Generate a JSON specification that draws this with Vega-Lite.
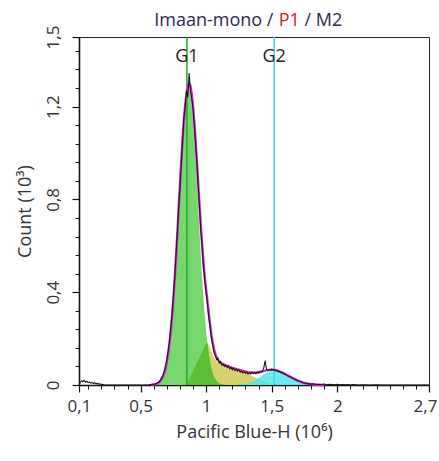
{
  "$schema": "https://vega.github.io/schema/vega-lite/v6.json",
  "width": 350,
  "height": 348,
  "autosize": {"type": "none"},
  "padding": {"left": 79, "top": 37, "right": 10, "bottom": 76},
  "background": "white",
  "config": {
    "view": {"stroke": "#222", "strokeWidth": 1},
    "font": "Open Sans",
    "axis": {"grid": false, "labelFont": "Open Sans", "titleFont": "Open Sans", "labelColor": "#333", "titleColor": "#333", "tickColor": "#111", "domainColor": "#111"}
  },
  "datasets": {
    "curves": [
      {"x": 0.58, "g1": 0.001, "s": 0, "ov": 0, "g2": 0, "fit": 0.001},
      {"x": 0.59, "g1": 0.001, "s": 0, "ov": 0, "g2": 0, "fit": 0.001},
      {"x": 0.60, "g1": 0.002, "s": 0, "ov": 0, "g2": 0, "fit": 0.002},
      {"x": 0.61, "g1": 0.003, "s": 0, "ov": 0, "g2": 0, "fit": 0.003},
      {"x": 0.62, "g1": 0.005, "s": 0, "ov": 0, "g2": 0, "fit": 0.005},
      {"x": 0.63, "g1": 0.007, "s": 0, "ov": 0, "g2": 0, "fit": 0.007},
      {"x": 0.64, "g1": 0.011, "s": 0, "ov": 0, "g2": 0, "fit": 0.011},
      {"x": 0.65, "g1": 0.017, "s": 0, "ov": 0, "g2": 0, "fit": 0.017},
      {"x": 0.66, "g1": 0.025, "s": 0, "ov": 0, "g2": 0, "fit": 0.025},
      {"x": 0.67, "g1": 0.036, "s": 0, "ov": 0, "g2": 0, "fit": 0.036},
      {"x": 0.68, "g1": 0.052, "s": 0, "ov": 0, "g2": 0, "fit": 0.052},
      {"x": 0.69, "g1": 0.072, "s": 0, "ov": 0, "g2": 0, "fit": 0.072},
      {"x": 0.70, "g1": 0.100, "s": 0, "ov": 0, "g2": 0, "fit": 0.100},
      {"x": 0.71, "g1": 0.134, "s": 0, "ov": 0, "g2": 0, "fit": 0.134},
      {"x": 0.72, "g1": 0.178, "s": 0, "ov": 0, "g2": 0, "fit": 0.178},
      {"x": 0.73, "g1": 0.231, "s": 0, "ov": 0, "g2": 0, "fit": 0.231},
      {"x": 0.74, "g1": 0.295, "s": 0, "ov": 0, "g2": 0, "fit": 0.295},
      {"x": 0.75, "g1": 0.370, "s": 0, "ov": 0, "g2": 0, "fit": 0.370},
      {"x": 0.76, "g1": 0.455, "s": 0, "ov": 0, "g2": 0, "fit": 0.455},
      {"x": 0.77, "g1": 0.549, "s": 0, "ov": 0, "g2": 0, "fit": 0.549},
      {"x": 0.78, "g1": 0.650, "s": 0, "ov": 0, "g2": 0, "fit": 0.650},
      {"x": 0.79, "g1": 0.755, "s": 0, "ov": 0, "g2": 0, "fit": 0.755},
      {"x": 0.80, "g1": 0.861, "s": 0, "ov": 0, "g2": 0, "fit": 0.861},
      {"x": 0.81, "g1": 0.964, "s": 0, "ov": 0, "g2": 0, "fit": 0.964},
      {"x": 0.82, "g1": 1.058, "s": 0, "ov": 0, "g2": 0, "fit": 1.058},
      {"x": 0.83, "g1": 1.141, "s": 0, "ov": 0, "g2": 0, "fit": 1.141},
      {"x": 0.84, "g1": 1.207, "s": 0, "ov": 0, "g2": 0, "fit": 1.207},
      {"x": 0.85, "g1": 1.253, "s": 0, "ov": 0, "g2": 0, "fit": 1.253},
      {"x": 0.86, "g1": 1.277, "s": 0.012, "ov": 0.012, "g2": 0, "fit": 1.289},
      {"x": 0.87, "g1": 1.277, "s": 0.024, "ov": 0.024, "g2": 0, "fit": 1.301},
      {"x": 0.88, "g1": 1.253, "s": 0.036, "ov": 0.036, "g2": 0, "fit": 1.289},
      {"x": 0.89, "g1": 1.207, "s": 0.048, "ov": 0.048, "g2": 0, "fit": 1.255},
      {"x": 0.90, "g1": 1.141, "s": 0.060, "ov": 0.060, "g2": 0, "fit": 1.201},
      {"x": 0.91, "g1": 1.058, "s": 0.072, "ov": 0.072, "g2": 0, "fit": 1.130},
      {"x": 0.92, "g1": 0.964, "s": 0.084, "ov": 0.084, "g2": 0, "fit": 1.048},
      {"x": 0.93, "g1": 0.861, "s": 0.096, "ov": 0.096, "g2": 0, "fit": 0.957},
      {"x": 0.94, "g1": 0.755, "s": 0.108, "ov": 0.108, "g2": 0, "fit": 0.863},
      {"x": 0.95, "g1": 0.650, "s": 0.120, "ov": 0.120, "g2": 0, "fit": 0.770},
      {"x": 0.96, "g1": 0.549, "s": 0.132, "ov": 0.132, "g2": 0, "fit": 0.681},
      {"x": 0.97, "g1": 0.455, "s": 0.144, "ov": 0.144, "g2": 0, "fit": 0.599},
      {"x": 0.98, "g1": 0.370, "s": 0.156, "ov": 0.156, "g2": 0, "fit": 0.526},
      {"x": 0.99, "g1": 0.295, "s": 0.168, "ov": 0.168, "g2": 0, "fit": 0.463},
      {"x": 1.00, "g1": 0.231, "s": 0.178, "ov": 0.178, "g2": 0, "fit": 0.409},
      {"x": 1.01, "g1": 0.178, "s": 0.182, "ov": 0.178, "g2": 0, "fit": 0.360},
      {"x": 1.02, "g1": 0.134, "s": 0.176, "ov": 0.134, "g2": 0, "fit": 0.310},
      {"x": 1.03, "g1": 0.100, "s": 0.162, "ov": 0.100, "g2": 0, "fit": 0.262},
      {"x": 1.04, "g1": 0.072, "s": 0.145, "ov": 0.072, "g2": 0, "fit": 0.217},
      {"x": 1.05, "g1": 0.052, "s": 0.130, "ov": 0.052, "g2": 0, "fit": 0.182},
      {"x": 1.06, "g1": 0.036, "s": 0.118, "ov": 0.036, "g2": 0, "fit": 0.154},
      {"x": 1.07, "g1": 0.025, "s": 0.109, "ov": 0.025, "g2": 0, "fit": 0.134},
      {"x": 1.08, "g1": 0.017, "s": 0.102, "ov": 0.017, "g2": 0, "fit": 0.119},
      {"x": 1.09, "g1": 0.011, "s": 0.098, "ov": 0.011, "g2": 0, "fit": 0.109},
      {"x": 1.10, "g1": 0.007, "s": 0.095, "ov": 0.007, "g2": 0, "fit": 0.102},
      {"x": 1.12, "g1": 0.003, "s": 0.090, "ov": 0.003, "g2": 0, "fit": 0.093},
      {"x": 1.14, "g1": 0.001, "s": 0.086, "ov": 0.001, "g2": 0, "fit": 0.087},
      {"x": 1.16, "g1": 0, "s": 0.082, "ov": 0, "g2": 0, "fit": 0.082},
      {"x": 1.18, "g1": 0, "s": 0.078, "ov": 0, "g2": 0, "fit": 0.078},
      {"x": 1.20, "g1": 0, "s": 0.074, "ov": 0, "g2": 0, "fit": 0.074},
      {"x": 1.22, "g1": 0, "s": 0.070, "ov": 0, "g2": 0, "fit": 0.070},
      {"x": 1.24, "g1": 0, "s": 0.066, "ov": 0, "g2": 0.001, "fit": 0.067},
      {"x": 1.26, "g1": 0, "s": 0.062, "ov": 0, "g2": 0.002, "fit": 0.064},
      {"x": 1.28, "g1": 0, "s": 0.057, "ov": 0, "g2": 0.004, "fit": 0.061},
      {"x": 1.30, "g1": 0, "s": 0.052, "ov": 0, "g2": 0.006, "fit": 0.058},
      {"x": 1.32, "g1": 0, "s": 0.047, "ov": 0, "g2": 0.008, "fit": 0.055},
      {"x": 1.34, "g1": 0, "s": 0.042, "ov": 0, "g2": 0.012, "fit": 0.054},
      {"x": 1.36, "g1": 0, "s": 0.036, "ov": 0, "g2": 0.017, "fit": 0.053},
      {"x": 1.38, "g1": 0, "s": 0.030, "ov": 0, "g2": 0.023, "fit": 0.053},
      {"x": 1.40, "g1": 0, "s": 0.025, "ov": 0, "g2": 0.030, "fit": 0.055},
      {"x": 1.42, "g1": 0, "s": 0.020, "ov": 0, "g2": 0.038, "fit": 0.058},
      {"x": 1.44, "g1": 0, "s": 0.015, "ov": 0, "g2": 0.045, "fit": 0.060},
      {"x": 1.46, "g1": 0, "s": 0.011, "ov": 0, "g2": 0.052, "fit": 0.063},
      {"x": 1.48, "g1": 0, "s": 0.008, "ov": 0, "g2": 0.057, "fit": 0.065},
      {"x": 1.50, "g1": 0, "s": 0.005, "ov": 0, "g2": 0.061, "fit": 0.066},
      {"x": 1.52, "g1": 0, "s": 0.003, "ov": 0, "g2": 0.062, "fit": 0.065},
      {"x": 1.54, "g1": 0, "s": 0.001, "ov": 0, "g2": 0.061, "fit": 0.062},
      {"x": 1.56, "g1": 0, "s": 0, "ov": 0, "g2": 0.058, "fit": 0.058},
      {"x": 1.58, "g1": 0, "s": 0, "ov": 0, "g2": 0.054, "fit": 0.054},
      {"x": 1.60, "g1": 0, "s": 0, "ov": 0, "g2": 0.048, "fit": 0.048},
      {"x": 1.62, "g1": 0, "s": 0, "ov": 0, "g2": 0.042, "fit": 0.042},
      {"x": 1.64, "g1": 0, "s": 0, "ov": 0, "g2": 0.036, "fit": 0.036},
      {"x": 1.66, "g1": 0, "s": 0, "ov": 0, "g2": 0.030, "fit": 0.030},
      {"x": 1.68, "g1": 0, "s": 0, "ov": 0, "g2": 0.024, "fit": 0.024},
      {"x": 1.70, "g1": 0, "s": 0, "ov": 0, "g2": 0.019, "fit": 0.019},
      {"x": 1.72, "g1": 0, "s": 0, "ov": 0, "g2": 0.014, "fit": 0.014},
      {"x": 1.74, "g1": 0, "s": 0, "ov": 0, "g2": 0.010, "fit": 0.010},
      {"x": 1.76, "g1": 0, "s": 0, "ov": 0, "g2": 0.007, "fit": 0.007},
      {"x": 1.78, "g1": 0, "s": 0, "ov": 0, "g2": 0.005, "fit": 0.005},
      {"x": 1.80, "g1": 0, "s": 0, "ov": 0, "g2": 0.003, "fit": 0.003},
      {"x": 1.82, "g1": 0, "s": 0, "ov": 0, "g2": 0.002, "fit": 0.002},
      {"x": 1.84, "g1": 0, "s": 0, "ov": 0, "g2": 0.001, "fit": 0.001},
      {"x": 1.86, "g1": 0, "s": 0, "ov": 0, "g2": 0, "fit": 0},
      {"x": 1.90, "g1": 0, "s": 0, "ov": 0, "g2": 0, "fit": 0}
    ],
    "hist": [
      {"x": 0.03, "c": 0.0}, {"x": 0.04, "c": 0.012}, {"x": 0.05, "c": 0.018}, {"x": 0.06, "c": 0.015},
      {"x": 0.07, "c": 0.020}, {"x": 0.08, "c": 0.012}, {"x": 0.09, "c": 0.016}, {"x": 0.10, "c": 0.010},
      {"x": 0.11, "c": 0.013}, {"x": 0.12, "c": 0.008}, {"x": 0.13, "c": 0.011}, {"x": 0.14, "c": 0.006},
      {"x": 0.15, "c": 0.009}, {"x": 0.16, "c": 0.005}, {"x": 0.17, "c": 0.007}, {"x": 0.18, "c": 0.004},
      {"x": 0.19, "c": 0.005}, {"x": 0.20, "c": 0.002}, {"x": 0.21, "c": 0.003}, {"x": 0.22, "c": 0.001},
      {"x": 0.23, "c": 0}, {"x": 0.56, "c": 0}, {"x": 0.57, "c": 0.002}, {"x": 0.58, "c": 0.001},
      {"x": 0.59, "c": 0.003}, {"x": 0.60, "c": 0.002}, {"x": 0.61, "c": 0.004}, {"x": 0.62, "c": 0.006},
      {"x": 0.63, "c": 0.010}, {"x": 0.64, "c": 0.013}, {"x": 0.65, "c": 0.020}, {"x": 0.66, "c": 0.030},
      {"x": 0.67, "c": 0.040}, {"x": 0.68, "c": 0.058}, {"x": 0.69, "c": 0.080}, {"x": 0.70, "c": 0.108},
      {"x": 0.71, "c": 0.145}, {"x": 0.72, "c": 0.190}, {"x": 0.73, "c": 0.245}, {"x": 0.74, "c": 0.310},
      {"x": 0.75, "c": 0.385}, {"x": 0.76, "c": 0.465}, {"x": 0.77, "c": 0.560}, {"x": 0.78, "c": 0.655},
      {"x": 0.79, "c": 0.765}, {"x": 0.80, "c": 0.850}, {"x": 0.81, "c": 0.955}, {"x": 0.82, "c": 1.050},
      {"x": 0.83, "c": 1.150}, {"x": 0.84, "c": 1.200}, {"x": 0.85, "c": 1.270}, {"x": 0.86, "c": 1.240},
      {"x": 0.87, "c": 1.345}, {"x": 0.88, "c": 1.270}, {"x": 0.89, "c": 1.235}, {"x": 0.90, "c": 1.190},
      {"x": 0.91, "c": 1.120}, {"x": 0.92, "c": 1.035}, {"x": 0.93, "c": 0.950}, {"x": 0.94, "c": 0.850},
      {"x": 0.95, "c": 0.760}, {"x": 0.96, "c": 0.665}, {"x": 0.97, "c": 0.590}, {"x": 0.98, "c": 0.505},
      {"x": 0.99, "c": 0.450}, {"x": 1.00, "c": 0.395}, {"x": 1.01, "c": 0.350}, {"x": 1.02, "c": 0.290},
      {"x": 1.03, "c": 0.250}, {"x": 1.04, "c": 0.205}, {"x": 1.05, "c": 0.175}, {"x": 1.06, "c": 0.140},
      {"x": 1.07, "c": 0.128}, {"x": 1.08, "c": 0.110}, {"x": 1.09, "c": 0.115}, {"x": 1.10, "c": 0.095},
      {"x": 1.11, "c": 0.100}, {"x": 1.12, "c": 0.085}, {"x": 1.13, "c": 0.090}, {"x": 1.14, "c": 0.080},
      {"x": 1.15, "c": 0.086}, {"x": 1.16, "c": 0.075}, {"x": 1.17, "c": 0.082}, {"x": 1.18, "c": 0.070},
      {"x": 1.19, "c": 0.076}, {"x": 1.20, "c": 0.066}, {"x": 1.21, "c": 0.074}, {"x": 1.22, "c": 0.062},
      {"x": 1.23, "c": 0.068}, {"x": 1.24, "c": 0.060}, {"x": 1.25, "c": 0.066}, {"x": 1.26, "c": 0.055},
      {"x": 1.27, "c": 0.060}, {"x": 1.28, "c": 0.052}, {"x": 1.29, "c": 0.058}, {"x": 1.30, "c": 0.050},
      {"x": 1.31, "c": 0.056}, {"x": 1.32, "c": 0.047}, {"x": 1.33, "c": 0.053}, {"x": 1.34, "c": 0.048},
      {"x": 1.35, "c": 0.055}, {"x": 1.36, "c": 0.050}, {"x": 1.37, "c": 0.054}, {"x": 1.38, "c": 0.049},
      {"x": 1.39, "c": 0.056}, {"x": 1.40, "c": 0.052}, {"x": 1.41, "c": 0.057}, {"x": 1.42, "c": 0.055},
      {"x": 1.43, "c": 0.060}, {"x": 1.44, "c": 0.075}, {"x": 1.45, "c": 0.105}, {"x": 1.46, "c": 0.068},
      {"x": 1.47, "c": 0.063}, {"x": 1.48, "c": 0.066}, {"x": 1.49, "c": 0.064}, {"x": 1.50, "c": 0.068},
      {"x": 1.51, "c": 0.065}, {"x": 1.52, "c": 0.067}, {"x": 1.53, "c": 0.062}, {"x": 1.54, "c": 0.064},
      {"x": 1.55, "c": 0.058}, {"x": 1.56, "c": 0.059}, {"x": 1.57, "c": 0.053}, {"x": 1.58, "c": 0.054},
      {"x": 1.59, "c": 0.048}, {"x": 1.60, "c": 0.047}, {"x": 1.62, "c": 0.040}, {"x": 1.64, "c": 0.035},
      {"x": 1.66, "c": 0.028}, {"x": 1.68, "c": 0.024}, {"x": 1.70, "c": 0.018}, {"x": 1.72, "c": 0.015},
      {"x": 1.74, "c": 0.010}, {"x": 1.76, "c": 0.008}, {"x": 1.78, "c": 0.006}, {"x": 1.80, "c": 0.004},
      {"x": 1.82, "c": 0.005}, {"x": 1.84, "c": 0.002}, {"x": 1.86, "c": 0.003}, {"x": 1.88, "c": 0.002},
      {"x": 1.90, "c": 0.004}, {"x": 1.92, "c": 0.001}, {"x": 1.94, "c": 0.003}, {"x": 1.96, "c": 0.002},
      {"x": 1.98, "c": 0.001}, {"x": 2.00, "c": 0.003}, {"x": 2.02, "c": 0.001}, {"x": 2.04, "c": 0.002},
      {"x": 2.06, "c": 0.001}, {"x": 2.08, "c": 0.002}, {"x": 2.10, "c": 0.0}, {"x": 2.12, "c": 0.002},
      {"x": 2.14, "c": 0.001}, {"x": 2.16, "c": 0.0}, {"x": 2.20, "c": 0.001}, {"x": 2.24, "c": 0.0},
      {"x": 2.30, "c": 0.001}, {"x": 2.34, "c": 0.0}, {"x": 2.70, "c": 0.0}
    ],
    "gates": [
      {"gate": "G1", "x": 0.853},
      {"gate": "G2", "x": 1.519}
    ],
    "title": [
      {"part": "Imaan-mono /", "x": 1.059},
      {"part": "P1", "x": 1.634},
      {"part": "/ M2", "x": 1.894}
    ]
  },
  "layer": [
    {
      "data": {"name": "curves"},
      "mark": {"type": "area", "color": "#d8d26e"},
      "encoding": {
        "x": {"field": "x", "type": "quantitative", "scale": {"domain": [0.03, 2.7], "nice": false, "zero": false},
          "axis": {"orient": "bottom", "values": [0.03, 0.5, 1, 1.5, 2, 2.7],
            "labelExpr": "datum.value < 0.1 ? '0,1' : replace(format(datum.value, '.1~f'), '.', ',')",
            "labelOffset": {"condition": {"test": "datum.value > 2.6", "value": -4}, "value": 0},
            "tickSize": 7, "tickWidth": 1.2, "domainWidth": 1.6, "labelFontSize": 17, "labelPadding": 6,
            "labelFlush": false, "labelOverlap": false,
            "title": "Pacific Blue-H (10⁶)", "titleFontSize": 18, "titleFontWeight": "normal", "titlePadding": 9}},
        "y": {"field": "s", "type": "quantitative", "scale": {"domain": [0, 1.5], "nice": false},
          "axis": {"orient": "left", "values": [0, 0.4, 0.8, 1.2, 1.5],
            "labelExpr": "replace(format(datum.value, '.1~f'), '.', ',')",
            "labelAngle": -90, "labelAlign": "center", "labelBaseline": "bottom",
            "tickSize": 7, "tickWidth": 1.2, "domainWidth": 1.6, "labelFontSize": 17, "labelPadding": 10,
            "labelFlush": false, "labelOverlap": false,
            "title": "Count (10³)", "titleFontSize": 18, "titleFontWeight": "normal", "titlePadding": 10}}
      }
    },
    {
      "data": {"name": "curves"},
      "mark": {"type": "area", "color": "#78d66e"},
      "encoding": {
        "x": {"field": "x", "type": "quantitative", "scale": {"domain": [0.03, 2.7], "nice": false, "zero": false},
          "axis": {"orient": "bottom", "values": [0.1, 0.2, 0.3, 0.4, 0.6, 0.7, 0.8, 0.9, 1.1, 1.2, 1.3, 1.4, 1.6, 1.7, 1.8, 1.9, 2.1, 2.2, 2.3, 2.4, 2.5, 2.6],
            "labels": false, "domain": false, "tickSize": 4, "tickWidth": 1, "title": null}},
        "y": {"field": "g1", "type": "quantitative", "scale": {"domain": [0, 1.5], "nice": false},
          "axis": {"orient": "left", "values": [0.08, 0.16, 0.24, 0.32, 0.48, 0.56, 0.64, 0.72, 0.88, 0.96, 1.04, 1.12, 1.28, 1.36, 1.44],
            "labels": false, "domain": false, "tickSize": 4, "tickWidth": 1, "title": null}}
      }
    },
    {
      "data": {"name": "curves"},
      "mark": {"type": "area", "color": "#5abe32"},
      "encoding": {
        "x": {"field": "x", "type": "quantitative", "axis": null},
        "y": {"field": "ov", "type": "quantitative", "axis": null}
      }
    },
    {
      "data": {"name": "curves"},
      "mark": {"type": "area", "color": "#46e6f0", "opacity": 0.8},
      "encoding": {
        "x": {"field": "x", "type": "quantitative", "axis": null},
        "y": {"field": "g2", "type": "quantitative", "axis": null}
      }
    },
    {
      "data": {"name": "gates"},
      "mark": {"type": "rule", "strokeWidth": 1.5},
      "encoding": {
        "x": {"field": "x", "type": "quantitative", "axis": null},
        "color": {"condition": {"test": "datum.gate === 'G1'", "value": "#22a822"}, "value": "#3ad8e2"}
      }
    },
    {
      "data": {"name": "curves"},
      "mark": {"type": "line", "color": "#d424d4", "strokeWidth": 2.4},
      "encoding": {
        "x": {"field": "x", "type": "quantitative", "axis": null},
        "y": {"field": "fit", "type": "quantitative", "axis": null}
      }
    },
    {
      "data": {"name": "hist"},
      "mark": {"type": "line", "color": "#1a1a1a", "strokeWidth": 1.1},
      "encoding": {
        "x": {"field": "x", "type": "quantitative", "axis": null},
        "y": {"field": "c", "type": "quantitative", "axis": null}
      }
    },
    {
      "data": {"name": "gates"},
      "mark": {"type": "text", "fontSize": 18, "color": "#222", "align": "center", "baseline": "middle"},
      "encoding": {
        "x": {"field": "x", "type": "quantitative", "axis": null},
        "y": {"datum": 1.414, "type": "quantitative", "axis": null},
        "text": {"field": "gate"}
      }
    },
    {
      "data": {"name": "title"},
      "mark": {"type": "text", "fontSize": 18, "align": "center", "baseline": "middle"},
      "encoding": {
        "x": {"field": "x", "type": "quantitative", "axis": null},
        "y": {"datum": 1.57, "type": "quantitative", "axis": null},
        "text": {"field": "part"},
        "color": {"condition": {"test": "datum.part === 'P1'", "value": "#d0202c"}, "value": "#2a2a50"}
      }
    }
  ],
  "resolve": {"axis": {"x": "independent", "y": "independent"}}
}
